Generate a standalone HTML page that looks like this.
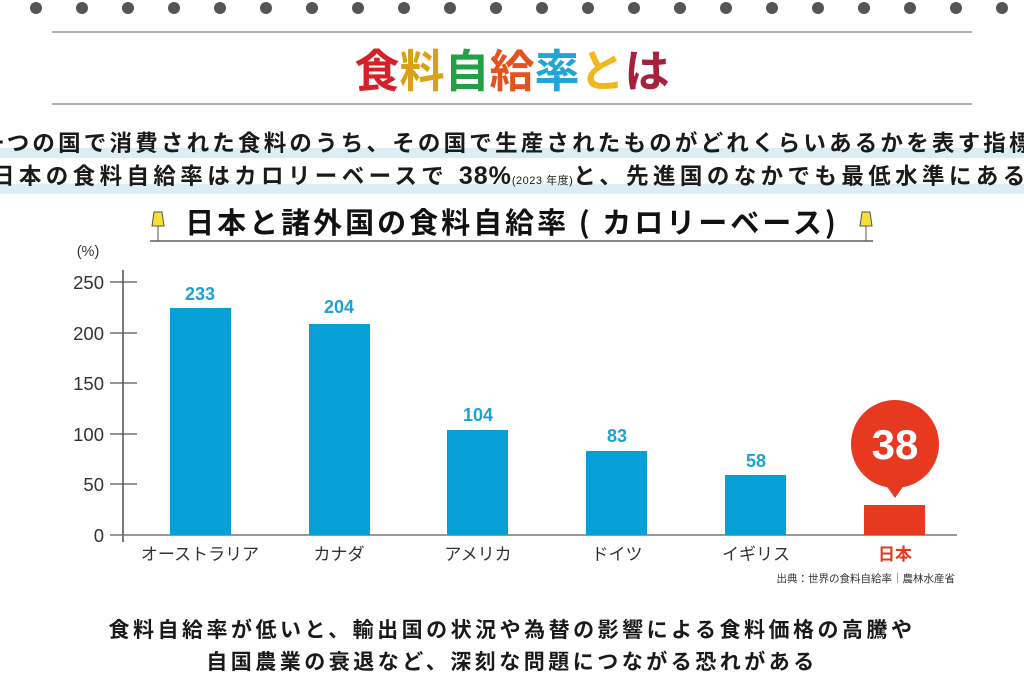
<!DOCTYPE html>
<html><head><meta charset="utf-8"><style>
html,body{margin:0;padding:0;background:#fff;}
body{width:1024px;height:683px;position:relative;overflow:hidden;font-family:"Liberation Sans","Noto Sans CJK JP",sans-serif;}
.a{position:absolute;white-space:nowrap;}
</style></head><body>
<svg class="a" style="left:0;top:0" width="1024" height="683">
<g fill="#555">
<circle cx="36" cy="8" r="6"/><circle cx="82" cy="8" r="6"/><circle cx="128" cy="8" r="6"/><circle cx="174" cy="8" r="6"/><circle cx="220" cy="8" r="6"/><circle cx="266" cy="8" r="6"/><circle cx="312" cy="8" r="6"/><circle cx="358" cy="8" r="6"/><circle cx="404" cy="8" r="6"/><circle cx="450" cy="8" r="6"/><circle cx="496" cy="8" r="6"/><circle cx="542" cy="8" r="6"/><circle cx="588" cy="8" r="6"/><circle cx="634" cy="8" r="6"/><circle cx="680" cy="8" r="6"/><circle cx="726" cy="8" r="6"/><circle cx="772" cy="8" r="6"/><circle cx="818" cy="8" r="6"/><circle cx="864" cy="8" r="6"/><circle cx="910" cy="8" r="6"/><circle cx="956" cy="8" r="6"/><circle cx="1002" cy="8" r="6"/>
</g>
<line x1="52" y1="32" x2="972" y2="32" stroke="#999" stroke-width="1.5"/>
<line x1="52" y1="104" x2="972" y2="104" stroke="#999" stroke-width="1.5"/>
<rect x="0" y="148" width="1024" height="10" fill="#dcedf5"/>
<rect x="0" y="184" width="1024" height="10" fill="#dcedf5"/>
<line x1="150" y1="241" x2="873" y2="241" stroke="#888" stroke-width="2"/>
<g>
<line x1="158" y1="225" x2="158" y2="241" stroke="#555"/>
<polygon points="154,212 162,212 164,226 152,226" fill="#f5e03a" stroke="#555" stroke-width="1"/>
<line x1="866" y1="225" x2="866" y2="241" stroke="#555"/>
<polygon points="862,212 870,212 872,226 860,226" fill="#f5e03a" stroke="#555" stroke-width="1"/>
</g>
<line x1="123" y1="270" x2="123" y2="542" stroke="#333" stroke-width="1.3"/>
<line x1="110" y1="535" x2="957" y2="535" stroke="#777" stroke-width="1.5"/>
<g stroke="#555" stroke-width="1.2">
<line x1="110" y1="282" x2="137" y2="282"/><line x1="110" y1="333" x2="137" y2="333"/><line x1="110" y1="383" x2="137" y2="383"/><line x1="110" y1="434" x2="137" y2="434"/><line x1="110" y1="484" x2="137" y2="484"/>
</g>
<g font-size="18.5" fill="#333" text-anchor="end" font-family="Liberation Sans,sans-serif">
<text x="104" y="289">250</text><text x="104" y="340">200</text><text x="104" y="390">150</text><text x="104" y="441">100</text><text x="104" y="491">50</text><text x="104" y="542">0</text>
</g>
<text x="88" y="256" font-size="14.5" fill="#333" text-anchor="middle">(%)</text>
<g fill="#069fd6">
<rect x="170" y="308" width="61" height="227"/>
<rect x="309" y="324" width="61" height="211"/>
<rect x="447" y="430" width="61" height="105"/>
<rect x="586" y="451" width="61" height="84"/>
<rect x="725" y="475" width="61" height="60"/>
</g>
<rect x="864" y="505" width="61" height="30" fill="#e6391f"/>
<g fill="#1ea1d4" font-size="18" font-weight="bold" text-anchor="middle">
<text x="200" y="300">233</text><text x="339" y="313">204</text><text x="478" y="421">104</text><text x="617" y="442">83</text><text x="756" y="467">58</text>
</g>
<circle cx="895" cy="444" r="44" fill="#e6391f"/>
<polygon points="885,484 905,484 895,498" fill="#e6391f"/>
<text x="895" y="459" font-size="42" font-weight="bold" fill="#fff" text-anchor="middle">38</text>
<g font-size="17" fill="#333" text-anchor="middle" font-family="Liberation Sans,Noto Sans CJK JP,sans-serif">
<text x="200" y="560">オーストラリア</text><text x="339" y="560">カナダ</text><text x="478" y="560">アメリカ</text><text x="617" y="560">ドイツ</text><text x="756" y="560">イギリス</text>
<text x="895" y="560" fill="#e6391f" font-weight="bold">日本</text>
</g>
<text x="955" y="582" font-size="10.5" fill="#333" text-anchor="end" font-family="Noto Sans CJK JP,sans-serif">出典：世界の食料自給率｜農林水産省</text>
</svg>
<div class="a" style="left:0;width:1024px;top:38px;text-align:center;font-size:45px;font-weight:bold;line-height:60px;font-family:'Noto Sans CJK JP',sans-serif;"><span style="color:#d42127">食</span><span style="color:#d9a019">料</span><span style="color:#23a045">自</span><span style="color:#e4521f">給</span><span style="color:#1fa5d6">率</span><span style="color:#f0b81c">と</span><span style="color:#a8203c">は</span></div>
<div class="a" style="left:-19px;top:127px;font-size:22.5px;font-weight:bold;color:#1a1a1a;letter-spacing:3.2px;line-height:30px;font-family:'Noto Sans CJK JP',sans-serif;">一つの国で消費された食料のうち、その国で生産されたものがどれくらいあるかを表す指標</div>
<div class="a" style="left:-8px;top:161px;font-size:22.5px;font-weight:bold;color:#1a1a1a;letter-spacing:4.4px;line-height:30px;font-family:'Liberation Sans','Noto Sans CJK JP',sans-serif;">日本の食料自給率はカロリーベースで <span style="font-size:25px;letter-spacing:1px">38%</span><span style="font-size:11px;font-weight:normal;letter-spacing:0.5px">(2023 年度)</span>と、先進国のなかでも最低水準にある</div>
<div class="a" style="left:0;width:1024px;top:202px;text-align:center;font-size:29px;font-weight:bold;color:#111;line-height:38px;letter-spacing:3px;font-family:'Noto Sans CJK JP',sans-serif;">日本と諸外国の食料自給率 ( カロリーベース)</div>
<div class="a" style="left:0;width:1024px;top:613px;text-align:center;font-size:21px;font-weight:bold;color:#1a1a1a;line-height:32px;letter-spacing:3.5px;font-family:'Noto Sans CJK JP',sans-serif;">食料自給率が低いと、輸出国の状況や為替の影響による食料価格の高騰や<br>自国農業の衰退など、深刻な問題につながる恐れがある</div>
</body></html>
